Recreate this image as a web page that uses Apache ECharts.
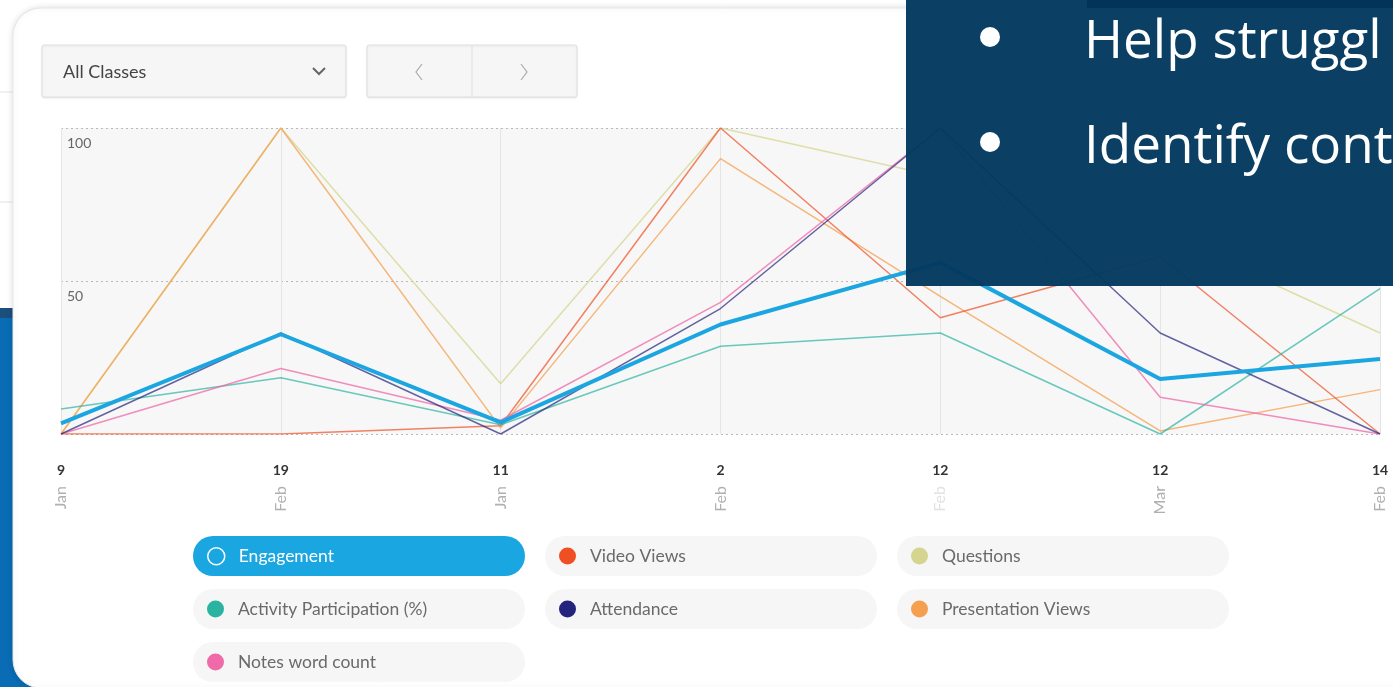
<!DOCTYPE html>
<html>
<head>
<meta charset="utf-8">
<title>Engagement chart</title>
<script src="https://cdn.jsdelivr.net/npm/echarts@6/dist/echarts.min.js"></script>
<style>
  html, body { margin: 0; padding: 0; background: #fff; }
  #chart { width: 1393px; height: 687px; }
</style>
</head>
<body>
<div id="chart"></div>
<script>
// categories (day + month)
var categories = ['9 Jan', '19 Feb', '11 Jan', '2 Feb', '12 Feb', '12 Mar', '14 Feb'];

// series values
var engagement   = [3.5, 32.6, 3.8, 35.8, 56, 18, 24.5];
var videoViews   = [0, 0, 2.7, 100, 38, 58, 0];
var questions    = [0, 100, 16.4, 100, 84, 66, 33];
var activity     = [8.2, 18.4, 3, 28.7, 33, 0, 47.5];
var attendance   = [0, 33, 0, 41, 100, 33, 0];
var presentation = [0, 100, 2, 90, 45, 1, 14.5];
var notes        = [0, 21.4, 4.5, 43, 100, 12, 0];

var yTicks = [0, 50, 100];

var FONT = 'Lato, "Open Sans", sans-serif';

var chart = echarts.init(document.getElementById('chart'));

// legend pills (3 columns)
var legendItems = [
	{ name: 'Engagement', col: 0, row: 0 },
	{ name: 'Video Views', col: 1, row: 0 },
	{ name: 'Questions', col: 2, row: 0 },
	{ name: 'Activity Participation (%)', col: 0, row: 1 },
	{ name: 'Attendance', col: 1, row: 1 },
	{ name: 'Presentation Views', col: 2, row: 1 },
	{ name: 'Notes word count', col: 0, row: 2 }
];
var PILL_X = [193, 545, 897], PILL_Y = [536, 589, 642], PILL_W = 332, PILL_H = 40;

var legends = legendItems.map(function (it) {
	var active = it.name === 'Engagement';
	var l = {
		data: [it.name],
		left: PILL_X[it.col] + 14,
		top: PILL_Y[it.row] + 11,
		padding: 0,
		icon: 'circle',
		itemWidth: 17,
		itemHeight: 17,
		selectedMode: false,
		textStyle: {
			fontFamily: FONT, fontSize: 17.5,
			color: active ? '#fff' : '#6a6a6a',
			padding: [0, 0, 0, 9]
		}
	};
	if (active) {
		l.itemStyle = { color: 'transparent', borderColor: '#fff', borderWidth: 1.5 };
	}
	return l;
});

var pills = legendItems.map(function (it) {
	var active = it.name === 'Engagement';
	return {
		type: 'rect', z: -5,
		shape: { x: PILL_X[it.col], y: PILL_Y[it.row], width: PILL_W, height: PILL_H, r: 20 },
		style: { fill: active ? '#1aa6e0' : '#f6f6f6' }
	};
});

function line(name, data, color, width, z, opacity) {
	return {
		name: name,
		type: 'line',
		data: data,
		symbol: 'none',
		color: color,
		z: z,
		lineStyle: { width: width, color: color, opacity: opacity },
		itemStyle: { color: color },
		emphasis: { disabled: true }
	};
}

var option = {
	animation: false,
	backgroundColor: '#fff',
	grid: {
		left: 61, right: 13, top: 128, bottom: 253,
		show: true, backgroundColor: '#f7f7f7', borderWidth: 0
	},
	xAxis: [{
		type: 'category',
		data: categories,
		boundaryGap: false,
		axisLine: { show: false },
		axisTick: { show: false },
		splitLine: { show: true, lineStyle: { color: '#e4e4e4', width: 1 } },
		axisLabel: {
			margin: 29,
			fontFamily: FONT, fontSize: 14, fontWeight: 'bold', color: '#333',
			formatter: function (v) { return v.split(' ')[0]; }
		}
	}, {
		type: 'category',
		data: categories,
		boundaryGap: false,
		position: 'bottom',
		axisLine: { show: false },
		axisTick: { show: false },
		splitLine: { show: false },
		axisLabel: {
			margin: 52,
			rotate: 90,
			fontFamily: FONT, fontSize: 16, color: '#b0b0b0',
			formatter: function (v, i) {
				var m = v.split(' ')[1];
				return i === 4 ? '{faint|' + m + '}' : m;
			},
			rich: { faint: { color: '#e2e2e2', fontFamily: FONT, fontSize: 16 } }
		}
	}],
	yAxis: {
		type: 'value',
		min: yTicks[0], max: yTicks[yTicks.length - 1], interval: 50,
		axisLine: { show: false },
		axisTick: { show: false },
		splitLine: { lineStyle: { color: '#b8b8b8', type: [2, 3], width: 1 } },
		axisLabel: {
			inside: true,
			margin: 6,
			verticalAlign: 'top',
			padding: [8, 0, 0, 0],
			fontFamily: FONT, fontSize: 14, color: '#666',
			formatter: function (v) { return v === 0 ? '' : String(v); }
		}
	},
	legend: legends,
	series: [
		line('Questions', questions, '#d6d58f', 1.5, 2, 0.75),
		line('Presentation Views', presentation, '#f5a04f', 1.5, 2, 0.75),
		line('Video Views', videoViews, '#f04e23', 1.5, 3, 0.7),
		line('Activity Participation (%)', activity, '#2bb3a2', 1.5, 3, 0.7),
		line('Notes word count', notes, '#ee6aa8', 1.5, 3, 0.75),
		line('Attendance', attendance, '#24247e', 1.5, 4, 0.7),
		line('Engagement', engagement, '#1ba6e1', 4, 6, 1)
	],
	graphic: [
		// page behind the card
		{ type: 'rect', z: -20, shape: { x: 0, y: 312, width: 40, height: 380 }, style: { fill: '#0a6cb4' } },
		{ type: 'rect', z: -20, shape: { x: 0, y: 308, width: 40, height: 10 }, style: { fill: '#1a4f7e' } },
		{ type: 'line', z: -20, shape: { x1: 0, y1: 92, x2: 14, y2: 92 }, style: { stroke: '#e4e4e4' } },
		{ type: 'line', z: -20, shape: { x1: 0, y1: 202, x2: 14, y2: 202 }, style: { stroke: '#e4e4e4' } },
		// card
		{
			type: 'rect', z: -10,
			shape: { x: 13, y: 8, width: 1440, height: 680, r: 28 },
			style: { fill: '#fff', stroke: '#e6e6e6', lineWidth: 1, shadowBlur: 6, shadowColor: 'rgba(0,0,0,0.12)' }
		},
		// class dropdown
		{
			type: 'rect', z: -5,
			shape: { x: 42, y: 45, width: 304, height: 52, r: 2 },
			style: { fill: '#f6f6f6', stroke: '#e0e0e0', shadowBlur: 2, shadowOffsetY: 1, shadowColor: 'rgba(0,0,0,0.08)' }
		},
		{
			type: 'text', z: -4,
			style: { text: 'All Classes', x: 63, y: 72, fill: '#444', font: '18px ' + FONT, textVerticalAlign: 'middle' }
		},
		{
			type: 'polyline', z: -4,
			shape: { points: [[313, 68], [319, 74], [325, 68]] },
			style: { stroke: '#666', lineWidth: 2, fill: null }
		},
		// prev / next buttons
		{
			type: 'rect', z: -5,
			shape: { x: 367, y: 45, width: 210, height: 52, r: 2 },
			style: { fill: '#f6f6f6', stroke: '#e0e0e0', shadowBlur: 2, shadowOffsetY: 1, shadowColor: 'rgba(0,0,0,0.08)' }
		},
		{ type: 'line', z: -4, shape: { x1: 472, y1: 45, x2: 472, y2: 97 }, style: { stroke: '#e0e0e0' } },
		{
			type: 'polyline', z: -4,
			shape: { points: [[422, 64], [416, 72], [422, 80]] },
			style: { stroke: '#aaa', lineWidth: 1.2, fill: null }
		},
		{
			type: 'polyline', z: -4,
			shape: { points: [[521, 64], [527, 72], [521, 80]] },
			style: { stroke: '#aaa', lineWidth: 1.2, fill: null }
		}
	].concat(pills).concat([
		// slide overlay
		{ type: 'rect', z: 100, shape: { x: 906, y: 0, width: 487, height: 286 }, style: { fill: '#033a5f', opacity: 0.97 } },
		{ type: 'rect', z: 101, shape: { x: 1087, y: 0, width: 306, height: 8 }, style: { fill: '#02345a' } },
		{ type: 'circle', z: 101, shape: { cx: 990, cy: 37, r: 10 }, style: { fill: '#fff' } },
		{ type: 'circle', z: 101, shape: { cx: 990, cy: 142, r: 10 }, style: { fill: '#fff' } },
		{
			type: 'text', z: 101,
			style: { text: 'Help struggl', x: 1084, y: 43, fill: '#fff', font: '53px "Open Sans"', textVerticalAlign: 'middle' }
		},
		{
			type: 'text', z: 101,
			style: { text: 'Identify cont', x: 1084, y: 148, fill: '#fff', font: '53px "Open Sans"', textVerticalAlign: 'middle' }
		}
	])
};

chart.setOption(option);
</script>
</body>
</html>
